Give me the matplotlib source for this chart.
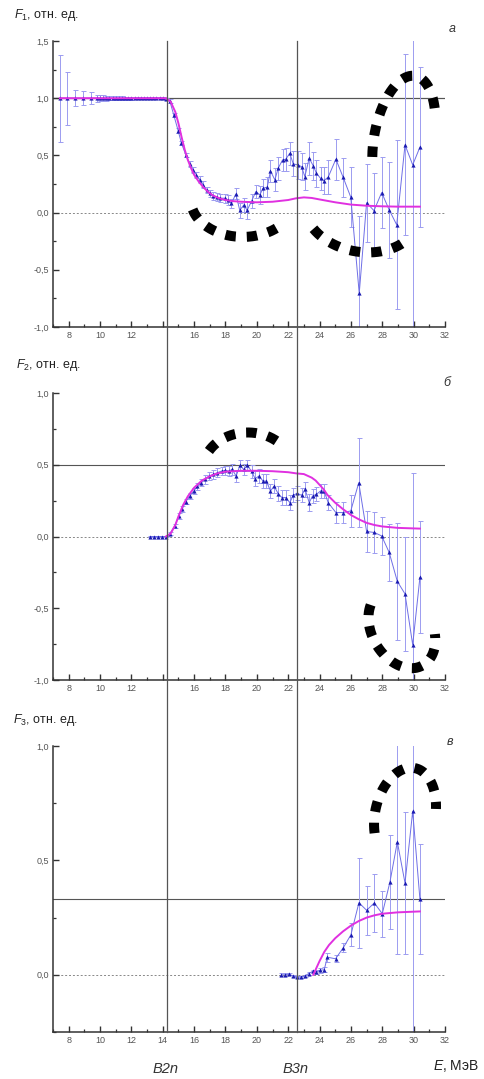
import numpy as np
import matplotlib
matplotlib.use("Agg")
import matplotlib.pyplot as plt
from matplotlib.lines import Line2D
from matplotlib.ticker import MultipleLocator, FuncFormatter
from matplotlib.transforms import blended_transform_factory, IdentityTransform

plt.rcParams['font.family'] = ['Liberation Sans', 'DejaVu Sans']
plt.rcParams['mathtext.fontset'] = 'custom'
plt.rcParams['mathtext.rm'] = 'Liberation Sans'
plt.rcParams['mathtext.it'] = 'Liberation Sans:italic'

# F1 (a)
e1 = [7.44, 7.9, 8.4, 8.9, 9.4, 9.8, 10.0, 10.2, 10.4, 10.6, 10.8, 11.0, 11.2, 11.4,
      11.6, 11.8, 12.0, 12.2, 12.4, 12.6, 12.8, 13.0, 13.2, 13.4, 13.6, 13.8, 14.0,
      14.2, 14.45, 14.7, 14.98, 15.19, 15.47, 15.72, 15.93, 16.15, 16.36, 16.57,
      16.79, 17.0, 17.2, 17.43, 17.64, 17.96, 18.17, 18.38, 18.66, 18.91, 19.17,
      19.38, 19.66, 19.94, 20.19, 20.4, 20.66, 20.87, 21.15, 21.36, 21.64, 21.85,
      22.1, 22.32, 22.6, 22.85, 23.06, 23.34, 23.6, 23.8, 24.06, 24.28, 24.55,
      25.04, 25.5, 25.99, 26.53, 27.0, 27.47, 27.96, 28.44, 28.92, 29.45, 29.94, 30.4]
f1 = [1.0, 1.0, 1.0, 1.0, 1.0, 1.0, 1.0, 1.0, 1.0, 1.0, 1.0, 1.0, 1.0, 1.0,
      1.0, 1.0, 1.0, 1.0, 1.0, 1.0, 1.0, 1.0, 1.0, 1.0, 1.0, 1.0, 1.0,
      0.995, 0.975, 0.854, 0.717, 0.607, 0.504, 0.426, 0.373, 0.33, 0.286, 0.242,
      0.198, 0.17, 0.146, 0.135, 0.126, 0.126, 0.11, 0.08, 0.163, 0.02, 0.067,
      0.02, 0.1, 0.184, 0.155, 0.213, 0.222, 0.364, 0.286, 0.388, 0.46, 0.467,
      0.519, 0.426, 0.417, 0.402, 0.315, 0.475, 0.408, 0.344, 0.3, 0.28, 0.31,
      0.467, 0.31, 0.135, -0.706, 0.086, 0.017, 0.175, 0.024, -0.107, 0.592, 0.417, 0.572]
err1 = [0.38, 0.23, 0.07, 0.06, 0.055, 0.03, 0.028, 0.025, 0.022, 0.02, 0.018, 0.015, 0.015, 0.015,
        0.012, 0.012, 0.012, 0.01, 0.01, 0.01, 0.01, 0.01, 0.01, 0.01, 0.01, 0.01, 0.01,
        0.01, 0.015, 0.02, 0.02, 0.02, 0.02, 0.025, 0.025, 0.025, 0.03, 0.03,
        0.03, 0.03, 0.035, 0.035, 0.035, 0.04, 0.04, 0.04, 0.048, 0.063, 0.058,
        0.073, 0.06, 0.06, 0.08, 0.08, 0.09, 0.1, 0.1, 0.1, 0.1, 0.1,
        0.1, 0.11, 0.12, 0.12, 0.12, 0.146, 0.12, 0.12, 0.1, 0.12, 0.15,
        0.18, 0.17, 0.26, 0.68, 0.34, 0.33, 0.31, 0.42, 0.74, 0.79, 2.0, 0.7]
fit1_e = [7.44, 14.2, 14.5, 14.8, 15.0, 15.2, 15.4, 15.6, 15.8, 16.0, 16.3, 16.6, 16.9,
          17.2, 17.6, 18.0, 18.5, 19.0, 20.0, 21.0, 22.0, 22.5, 23.0, 23.5, 24.0, 25.0,
          26.0, 27.0, 28.0, 29.0, 30.4]
fit1_f = [1.0, 1.0, 0.97, 0.88, 0.78, 0.66, 0.55, 0.46, 0.39, 0.33, 0.27, 0.22, 0.18,
          0.15, 0.125, 0.11, 0.10, 0.095, 0.09, 0.095, 0.11, 0.125, 0.133, 0.128, 0.115, 0.09,
          0.07, 0.06, 0.055, 0.052, 0.052]

# F2 (б)
e2 = [13.2, 13.45, 13.7, 13.95, 14.2, 14.45, 14.77, 15.02, 15.23, 15.47, 15.72, 15.98,
      16.21, 16.47, 16.68, 16.96, 17.21, 17.47, 17.75, 17.96, 18.21, 18.43, 18.68,
      18.92, 19.17, 19.38, 19.66, 19.89, 20.13, 20.4, 20.61, 20.87, 21.1, 21.36, 21.6,
      21.85, 22.1, 22.32, 22.57, 22.85, 23.08, 23.34, 23.55, 23.8, 24.06, 24.29, 24.55,
      25.04, 25.5, 25.99, 26.5, 27.0, 27.49, 27.96, 28.44, 28.96, 29.45, 29.94, 30.4]
f2 = [0.0, 0.0, 0.0, 0.0, 0.0, 0.02, 0.074, 0.143, 0.19, 0.243, 0.282, 0.317,
      0.351, 0.375, 0.398, 0.421, 0.433, 0.444, 0.456, 0.46, 0.456, 0.467, 0.421,
      0.495, 0.467, 0.495, 0.456, 0.403, 0.421, 0.386, 0.386, 0.317, 0.351, 0.299, 0.271,
      0.271, 0.236, 0.287, 0.301, 0.287, 0.328, 0.236, 0.282, 0.294, 0.317, 0.317, 0.236,
      0.167, 0.167, 0.178, 0.375, 0.035, 0.028, 0.004, -0.111, -0.313, -0.4, -0.755, -0.285]
err2 = [0.005, 0.005, 0.005, 0.005, 0.005, 0.01, 0.015, 0.02, 0.02, 0.02, 0.02, 0.02,
        0.025, 0.025, 0.03, 0.03, 0.03, 0.03, 0.03, 0.03, 0.035, 0.035, 0.04,
        0.04, 0.04, 0.04, 0.045, 0.05, 0.05, 0.05, 0.05, 0.05, 0.05, 0.05, 0.05,
        0.05, 0.05, 0.05, 0.05, 0.05, 0.05, 0.06, 0.05, 0.05, 0.05, 0.05, 0.05,
        0.075, 0.075, 0.11, 0.31, 0.14, 0.14, 0.13, 0.2, 0.41, 0.4, 1.2, 0.39]
fit2_e = [14.2, 14.5, 14.8, 15.0, 15.3, 15.6, 16.0, 16.5, 17.0, 17.5, 18.0, 19.0, 20.0,
          21.0, 22.0, 22.5, 23.0, 23.5, 23.75, 24.0, 24.25, 24.5, 25.0, 25.5, 26.0, 26.5,
          27.0, 27.5, 28.0, 29.0, 30.4]
fit2_f = [0.0, 0.02, 0.08, 0.14, 0.22, 0.28, 0.34, 0.39, 0.42, 0.44, 0.452, 0.458, 0.458,
          0.455, 0.448, 0.44, 0.435, 0.41, 0.39, 0.36, 0.33, 0.29, 0.235, 0.19, 0.15, 0.12,
          0.095, 0.08, 0.07, 0.06, 0.055]

# F3 (в)
e3 = [21.57, 21.8, 22.05, 22.3, 22.55, 22.8, 23.05, 23.3, 23.55, 23.8, 24.05, 24.3,
      24.49, 25.02, 25.51, 26.0, 26.51, 27.0, 27.49, 28.0, 28.49, 28.96, 29.45, 29.94, 30.4]
f3 = [0.0, 0.0, 0.003, -0.005, -0.01, -0.01, -0.005, 0.005, 0.015, 0.012, 0.02, 0.022,
      0.077, 0.07, 0.118, 0.175, 0.315, 0.282, 0.314, 0.267, 0.406, 0.581, 0.401, 0.715, 0.331]
err3 = [0.006, 0.006, 0.006, 0.006, 0.006, 0.006, 0.006, 0.008, 0.008, 0.008, 0.01, 0.01,
        0.02, 0.015, 0.02, 0.05, 0.197, 0.108, 0.128, 0.1, 0.206, 0.49, 0.31, 1.5, 0.24]
fit3_e = [23.6, 23.8, 24.0, 24.3, 24.6, 25.0, 25.5, 26.0, 26.5, 27.0, 27.5, 28.0, 29.0, 30.4]
fit3_f = [0.0, 0.03, 0.06, 0.10, 0.13, 0.16, 0.19, 0.215, 0.235, 0.25, 0.26, 0.267, 0.273, 0.277]

thresholds = [14.3, 22.55]
threshold_names = ['B2n', 'B3n']
limits = [0.0, 1.0 / 2, 1.0 / 3]   # asymptotic level of each F

W, H = 484, 1079
fig = plt.figure(figsize=(W / 100, H / 100), dpi=100)


def add_panel(y_top, y_bottom):
    return fig.add_axes([53 / W, 1 - y_bottom / H, (445 - 53) / W, (y_bottom - y_top) / H])


def comma(v, pos):
    return '{:.1f}'.format(v).replace('.', ',')


def style(ax, ylim, skip14):
    ax.set_xlim(7, 32)
    ax.set_ylim(*ylim)
    for s in ('top', 'right'):
        ax.spines[s].set_visible(False)
    for s in ('left', 'bottom'):
        ax.spines[s].set_color('#333333')
        ax.spines[s].set_linewidth(1.1)
    ax.xaxis.set_major_locator(MultipleLocator(2))
    ax.xaxis.set_minor_locator(MultipleLocator(1))
    ax.yaxis.set_major_locator(MultipleLocator(0.5))
    ax.yaxis.set_minor_locator(MultipleLocator(0.25))
    ax.yaxis.set_major_formatter(FuncFormatter(comma))
    if skip14:
        ax.xaxis.set_major_formatter(FuncFormatter(lambda v, p: '' if abs(v - 14) < 0.1 else '%d' % v))
    ax.tick_params(which='both', direction='in', colors='#333333', labelcolor='#555555',
                   labelsize=6.5, pad=3)
    ax.tick_params(which='major', length=4, width=1.0)
    ax.tick_params(which='minor', length=2, width=0.9)


def draw(ax, e, f, err, fe, ff, level):
    ax.axhline(level, color='#555555', lw=0.8, zorder=1)
    ax.axhline(0, color='#888888', lw=0.7, ls=(0, (2, 2)), zorder=1)
    ax.errorbar(e, f, yerr=err, fmt='none', ecolor='#9c9cf0', elinewidth=0.7,
                capsize=1.8, capthick=0.7, zorder=2)
    ax.plot(e, f, '-', color='#6e6ee6', lw=0.7, zorder=3)
    ax.plot(e, f, '^', color='#1a1ab0', ms=3, mec='none', zorder=4)
    ax.plot(fe, ff, color='#e030e0', lw=1.4, zorder=5)


ax1 = add_panel(41, 327)
ax2 = add_panel(393, 680)
ax3 = add_panel(746, 1032)
style(ax1, (-1.0, 1.5), True)
style(ax2, (-1.0, 1.0), True)
style(ax3, (-0.25, 1.0), False)
ax1.axhline(1.0, color='#555555', lw=0.8, zorder=1)
draw(ax1, e1, f1, err1, fit1_e, fit1_f, 1.0)
draw(ax2, e2, f2, err2, fit2_e, fit2_f, limits[1])
draw(ax3, e3, f3, err3, fit3_e, fit3_f, limits[2])

# threshold lines running through all three panels
tr = blended_transform_factory(ax3.transData, fig.transFigure)
for x in thresholds:
    fig.add_artist(Line2D([x, x], [1 - 41 / H, 1 - 1032 / H], transform=tr,
                          color='#555555', lw=0.9, zorder=1))


# hand-drawn dashed loops highlighting deviations
def dashed_loop(ax, center, rx, ry, tilt, t0, t1):
    cx, cy = ax.transData.transform(center)
    t = np.radians(np.linspace(t0, t1, 200))
    dx = rx * np.cos(t)
    dy = ry * np.sin(t)
    a = np.radians(tilt)
    x = cx + dx * np.cos(a) - dy * np.sin(a)
    y = cy - (dx * np.sin(a) + dy * np.cos(a))
    fig.add_artist(Line2D(x, y, transform=IdentityTransform(), color='black', lw=7.2,
                          dashes=(1.05, 1.1), dash_capstyle='butt', zorder=10))


loops = [
    (ax1, (19.11, 0.111), 52, 37, 0, 165, 50),
    (ax1, (26.70, 0.024), 58, 42, 10, 140, 30),
    (ax1, (29.38, 0.635), 30, 65, 10, 160, 335),
    (ax2, (19.43, 0.467), 45, 37, 0, 210, 310),
    (ax2, (29.25, -0.644), 30, 42, -30, 240, 30),
    (ax3, (29.45, 0.698), 30, 48, 12, 150, 345),
]
for ax, c, rx, ry, tilt, t0, t1 in loops:
    dashed_loop(ax, c, rx, ry, tilt, t0, t1)

# labels
fig.text(14 / W, 1 - 18 / H, r'$F_{1}$, отн. ед.', fontsize=9, color='#222222')
fig.text(16 / W, 1 - 368 / H, r'$F_{2}$, отн. ед.', fontsize=9, color='#222222')
fig.text(13 / W, 1 - 723 / H, r'$F_{3}$, отн. ед.', fontsize=9, color='#222222')
fig.text(452 / W, 1 - 29 / H, 'а', fontsize=9, style='italic', ha='center', va='center', color='#333333')
fig.text(447 / W, 1 - 383 / H, 'б', fontsize=9, style='italic', ha='center', va='center', color='#333333')
fig.text(450 / W, 1 - 742 / H, 'в', fontsize=9, style='italic', ha='center', va='center', color='#333333')

lab_tr = blended_transform_factory(ax3.transData, fig.transFigure)
for x, name in zip(thresholds, threshold_names):
    fig.text(x - 0.1, 1 - 1069 / H, name, transform=lab_tr, fontsize=10.5, style='italic',
             ha='center', va='center', color='#333333')
fig.text(433 / W, 1 - 1066 / H, r'$E$, МэВ', fontsize=10, va='center', color='#222222')

fig.savefig('out.png', dpi=100)
